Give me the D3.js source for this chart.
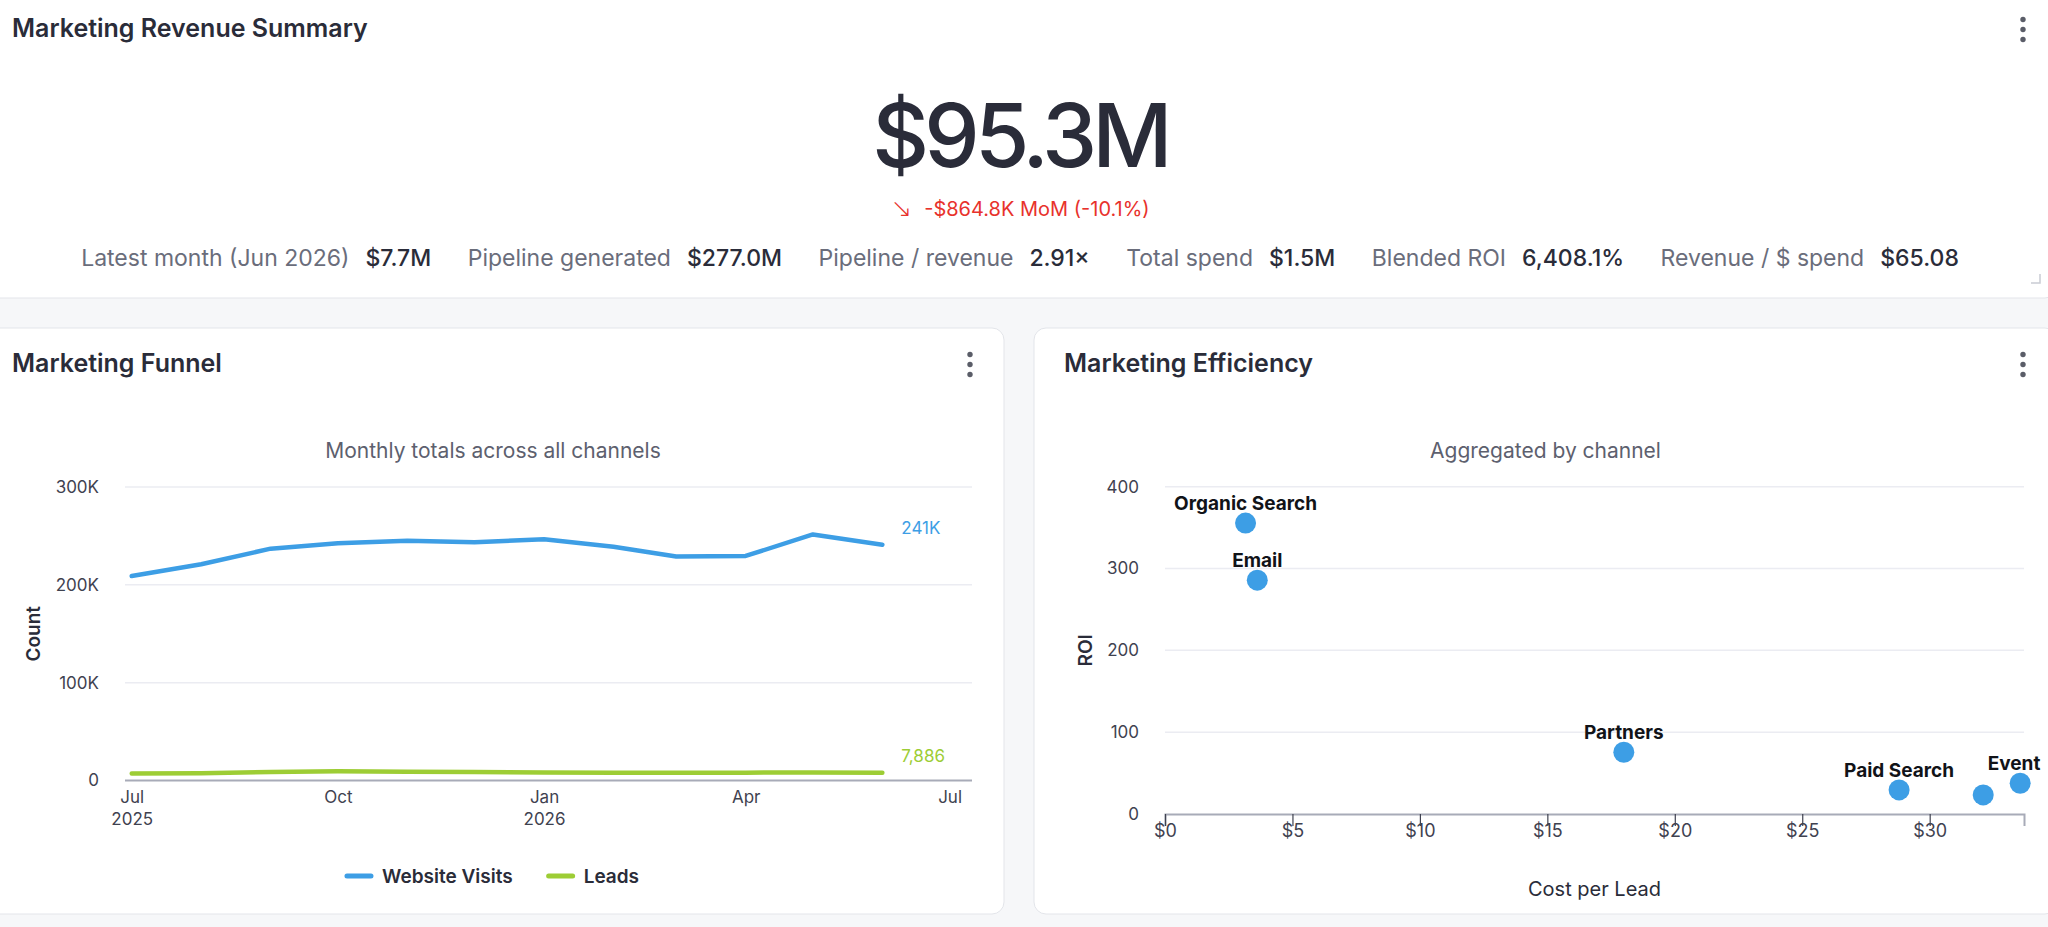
<!DOCTYPE html>
<html>
<head>
<meta charset="utf-8">
<title>Marketing Revenue Summary</title>
<script src="https://cdn.jsdelivr.net/npm/d3@7"></script>
<style>
  html, body { margin: 0; padding: 0; background: #f6f7f9; overflow: hidden; }
  svg text { font-family: Inter, "Noto Sans", sans-serif; }
</style>
</head>
<body>
<svg id="page" width="2048" height="927"></svg>
<script>
// ---- data ----
const kpiValue = "$95.3M";
const kpiArrow = "↘";
const kpiChange = "-$864.8K MoM (-10.1%)";
const statLabels = ["Latest month (Jun 2026)", "Pipeline generated", "Pipeline / revenue", "Total spend", "Blended ROI", "Revenue / $ spend"];
const statValues = ["$7.7M", "$277.0M", "2.91×", "$1.5M", "6,408.1%", "$65.08"];

const months = ["2025-07-01", "2025-08-01", "2025-09-01", "2025-10-01", "2025-11-01", "2025-12-01",
                "2026-01-01", "2026-02-01", "2026-03-01", "2026-04-01", "2026-05-01", "2026-06-01"];
const websiteVisits = [209000, 221000, 237000, 242500, 245000, 243500, 246500, 239000, 229000, 229500, 251500, 241000];
const leads = [7200, 7500, 8700, 9500, 9000, 8600, 8200, 8000, 7900, 8000, 8300, 7886];
const funnelTicks = [0, 100000, 200000, 300000];

const channels = ["Organic Search", "Email", "Partners", "Paid Search", "Social", "Event"];
const costPerLead = [3.16, 3.62, 18.0, 28.8, 32.1, 33.55];
const roi = [355.5, 285.8, 75.5, 29.4, 23.3, 37.6];
const hiddenLabels = ["Social"]; // label dropped (overlaps neighbours)
const roiTicks = [0, 100, 200, 300, 400];
const cplTicks = [0, 5, 10, 15, 20, 25, 30];

// ---- page ----
const W = 2048, H = 927;
const C = {
  ink: "#2a2c39", muted: "#6a6d7b", sub: "#5d606e", tick: "#3f4250",
  grid: "#ebecf2", axis: "#a8abb8", border: "#e3e5ea",
  blue: "#3d9ee5", green: "#9dcd35", red: "#e8322c", dots: "#5a5d68"
};
const svg = d3.select("#page");

svg.append("rect").attr("width", W).attr("height", H).attr("fill", "#f6f7f9");

function kebab(x, cy) {
  svg.append("g").selectAll("circle").data([-10, 0, 10]).join("circle")
    .attr("cx", x).attr("cy", d => cy + d).attr("r", 2.7).attr("fill", C.dots);
}

// summary card
svg.append("rect").attr("x", -18).attr("y", -20).attr("width", 2075).attr("height", 318)
  .attr("rx", 12).attr("fill", "#fff").attr("stroke", C.border);
svg.append("text").attr("x", 12).attr("y", 37).attr("font-size", 25).attr("font-weight", 600)
  .attr("fill", C.ink).text("Marketing Revenue Summary");
kebab(2023, 29.5);
svg.append("path").attr("d", "M2031,283 L2040,283 L2040,274").attr("fill", "none")
  .attr("stroke", "#c9ccd3").attr("stroke-width", 1.5);

const center = 1020;
svg.append("text").attr("x", center).attr("y", 167).attr("text-anchor", "middle")
  .attr("font-size", 88).attr("font-weight", 500).attr("letter-spacing", "-4.8px")
  .attr("fill", C.ink).text(kpiValue);
const chg = svg.append("text").attr("x", center).attr("y", 216).attr("text-anchor", "middle")
  .attr("font-size", 20).attr("fill", C.red);
chg.append("tspan").attr("font-family", "'DejaVu Sans'").attr("font-size", 26).attr("font-weight", 300)
  .attr("dy", 1).text(kpiArrow);
chg.append("tspan").attr("dx", 12).attr("dy", -1).text(kpiChange);

// stats row, laid out from measured text widths
const statsG = svg.append("g");
let cursor = 0;
statLabels.forEach((lab, i) => {
  const t1 = statsG.append("text").attr("x", cursor).attr("y", 266).attr("font-size", 23)
    .attr("fill", C.muted).text(lab);
  cursor += t1.node().getComputedTextLength() + 16;
  const t2 = statsG.append("text").attr("x", cursor).attr("y", 266).attr("font-size", 23)
    .attr("font-weight", 500).attr("fill", C.ink).text(statValues[i]);
  cursor += t2.node().getComputedTextLength() + (i < statLabels.length - 1 ? 36.5 : 0);
});
statsG.attr("transform", `translate(${center - cursor / 2},0)`);

// lower cards
const cards = [
  {x: -18, w: 1022, title: "Marketing Funnel", sub: "Monthly totals across all channels"},
  {x: 1034, w: 1023, title: "Marketing Efficiency", sub: "Aggregated by channel"}
];
cards.forEach(c => {
  svg.append("rect").attr("x", c.x).attr("y", 328).attr("width", c.w).attr("height", 586)
    .attr("rx", 12).attr("fill", "#fff").attr("stroke", C.border);
  svg.append("text").attr("x", c.x + 30).attr("y", 372).attr("font-size", 25).attr("font-weight", 600)
    .attr("fill", C.ink).text(c.title);
  kebab(c.x + c.w - 34, 364.5);
  svg.append("text").attr("x", c.x + c.w / 2).attr("y", 458).attr("text-anchor", "middle")
    .attr("font-size", 21).attr("fill", C.sub).text(c.sub);
});

// ---- Marketing Funnel line chart ----
const parse = d3.utcParse("%Y-%m-%d");
const dates = months.map(parse);
const x = d3.scaleUtc().domain([new Date(Date.UTC(2025, 5, 28)), new Date(Date.UTC(2026, 6, 11))]).range([125, 972]);
const y = d3.scaleLinear().domain([0, 300000]).range([780.5, 487]);

const fg = svg.append("g");
fg.append("g").selectAll("line").data(funnelTicks.slice(1)).join("line")
  .attr("x1", 125).attr("x2", 972).attr("y1", d => y(d)).attr("y2", d => y(d))
  .attr("stroke", C.grid).attr("stroke-width", 1.5);

const yAx = fg.append("g").attr("transform", "translate(125,0)")
  .call(d3.axisLeft(y).tickValues(funnelTicks).tickSize(0).tickPadding(26)
    .tickFormat(d => d === 0 ? "0" : d3.format("d")(d / 1000) + "K"));
yAx.select(".domain").remove();
yAx.selectAll("text").attr("font-size", 17).attr("fill", C.tick).attr("font-family", null);

fg.append("line").attr("x1", 125).attr("x2", 972).attr("y1", y(0)).attr("y2", y(0))
  .attr("stroke", C.axis).attr("stroke-width", 2);

const xAx = fg.append("g").attr("transform", `translate(0,${y(0)})`)
  .call(d3.axisBottom(x).ticks(d3.utcMonth.every(3)).tickSize(0).tickPadding(10)
    .tickFormat(d3.utcFormat("%b")));
xAx.select(".domain").remove();
xAx.selectAll("text").attr("font-size", 17).attr("fill", C.tick).attr("font-family", null);
xAx.selectAll(".tick").filter((d, i) => i === 0 || d.getUTCMonth() === 0)
  .append("text").attr("y", 44).attr("fill", C.tick).attr("font-size", 17)
  .text(d => d.getUTCFullYear());

fg.append("text").attr("transform", `translate(40,${(y(0) + y(300000)) / 2}) rotate(-90)`)
  .attr("text-anchor", "middle").attr("font-size", 19).attr("font-weight", 600)
  .attr("fill", C.ink).text("Count");

const series = [
  {name: "Website Visits", values: websiteVisits, color: C.blue, fmt: v => d3.format(".0f")(v / 1000) + "K"},
  {name: "Leads", values: leads, color: C.green, fmt: d3.format(",")}
];
const line = d3.line().x((d, i) => x(dates[i])).y(d => y(d));
series.forEach(s => {
  fg.append("path").datum(s.values).attr("d", line).attr("fill", "none")
    .attr("stroke", s.color).attr("stroke-width", 4.5).attr("stroke-linecap", "round")
    .attr("stroke-linejoin", "round");
  const last = s.values.length - 1;
  fg.append("text").attr("x", x(dates[last]) + 19).attr("y", y(s.values[last]) - 11)
    .attr("font-size", 17).attr("fill", s.color).text(s.fmt(s.values[last]));
});

// legend
const lg = fg.append("g");
let lx = 0;
series.forEach(s => {
  lg.append("line").attr("x1", lx).attr("x2", lx + 24).attr("y1", 0).attr("y2", 0)
    .attr("stroke", s.color).attr("stroke-width", 5).attr("stroke-linecap", "round");
  const t = lg.append("text").attr("x", lx + 35).attr("y", 7).attr("font-size", 19)
    .attr("font-weight", 600).attr("fill", C.ink).text(s.name);
  lx += 35 + t.node().getComputedTextLength() + 36;
});
lx -= 36;
lg.attr("transform", `translate(${cards[0].x + cards[0].w / 2 - lx / 2},876)`);

// ---- Marketing Efficiency scatter ----
const xs = d3.scaleLinear().domain([0, 33.7]).range([1165, 2024]);
const ys = d3.scaleLinear().domain([0, 400]).range([814, 486.7]);
const sg = svg.append("g");

sg.append("g").selectAll("line").data(roiTicks.slice(1)).join("line")
  .attr("x1", 1165).attr("x2", 2024).attr("y1", d => ys(d)).attr("y2", d => ys(d))
  .attr("stroke", C.grid).attr("stroke-width", 1.5);

const syAx = sg.append("g").attr("transform", "translate(1165,0)")
  .call(d3.axisLeft(ys).tickValues(roiTicks).tickSize(0).tickPadding(26));
syAx.select(".domain").remove();
syAx.selectAll("text").attr("font-size", 17).attr("fill", C.tick).attr("font-family", null);

const sxAx = sg.append("g").attr("transform", `translate(0,${ys(0)})`)
  .call(d3.axisBottom(xs).tickValues(cplTicks).tickSize(12).tickPadding(-2)
    .tickFormat(d => "$" + d));
sxAx.select(".domain").attr("stroke", C.axis).attr("stroke-width", 2);
sxAx.selectAll(".tick line").attr("stroke", C.tick).attr("stroke-width", 1.2);
sxAx.selectAll("text").attr("font-size", 18).attr("fill", C.tick).attr("font-family", null);

sg.append("text").attr("transform", `translate(1092,${(ys(0) + ys(400)) / 2}) rotate(-90)`)
  .attr("text-anchor", "middle").attr("font-size", 19).attr("font-weight", 600)
  .attr("fill", C.ink).text("ROI");
sg.append("text").attr("x", (xs.range()[0] + xs.range()[1]) / 2).attr("y", 896)
  .attr("text-anchor", "middle").attr("font-size", 20).attr("fill", C.ink).text("Cost per Lead");

const pts = channels.map((name, i) => ({name, cpl: costPerLead[i], roi: roi[i]}));
sg.append("g").selectAll("circle").data(pts).join("circle")
  .attr("cx", d => xs(d.cpl)).attr("cy", d => ys(d.roi)).attr("r", 10.5)
  .attr("fill", C.blue);
sg.append("g").selectAll("text").data(pts.filter(d => !hiddenLabels.includes(d.name))).join("text")
  .attr("x", d => Math.min(xs(d.cpl), 2014)).attr("y", d => ys(d.roi) - 13)
  .attr("text-anchor", "middle").attr("font-size", 19).attr("font-weight", 700)
  .attr("fill", "#111318").text(d => d.name);
</script>
</body>
</html>
